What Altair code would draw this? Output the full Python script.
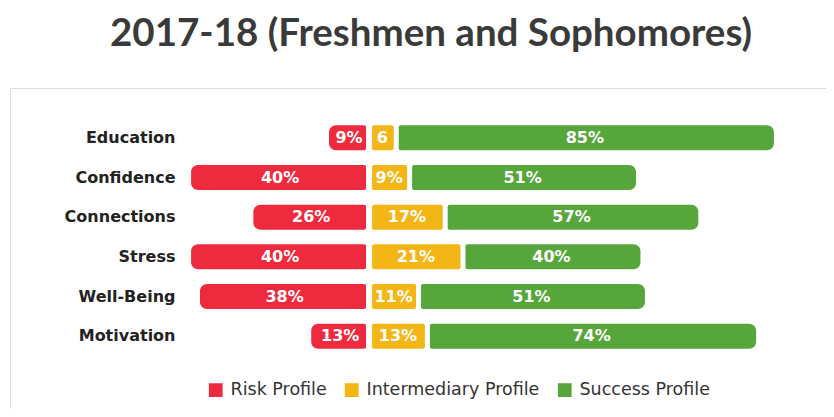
import altair as alt
import pandas as pd

categories = ["Education", "Confidence", "Connections", "Stress", "Well-Being", "Motivation"]
risk = [9, 40, 26, 40, 38, 13]
inter = [6, 9, 17, 21, 11, 13]
success = [85, 51, 57, 40, 51, 74]
inter_labels = ["6", "9%", "17%", "21%", "11%", "13%"]

profiles = ["Risk Profile", "Intermediary Profile", "Success Profile"]
colors = ["#ee2a3e", "#f4b616", "#56a63b"]

rows = []
for i, c in enumerate(categories):
    rows.append(dict(category=c, profile=profiles[0], value=risk[i],
                     start=-risk[i], end=0, label=f"{risk[i]}%"))
    rows.append(dict(category=c, profile=profiles[1], value=inter[i],
                     start=0, end=inter[i], label=inter_labels[i]))
    rows.append(dict(category=c, profile=profiles[2], value=success[i],
                     start=inter[i], end=inter[i] + success[i], label=f"{success[i]}%"))
df = pd.DataFrame(rows)
df["mid"] = (df["start"] + df["end"]) / 2

x_scale = alt.Scale(domain=[-80.7, 102.7], nice=False, zero=False)
y_scale = alt.Scale(domain=categories, range=[30, 268], paddingInner=0, paddingOuter=0)

base = alt.Chart(df)

color = alt.Color(
    "profile:N",
    scale=alt.Scale(domain=profiles, range=colors),
    legend=alt.Legend(
        title=None, orient="none", direction="horizontal", legendX=197, legendY=293,
        symbolType="square", symbolSize=190, symbolStrokeWidth=0,
        labelFont="DejaVu Sans", labelFontSize=17.5, labelColor="#333333",
        labelLimit=400, columnPadding=16, labelOffset=6,
    ),
)

def bars(profile, **mark_kw):
    return base.transform_filter(alt.datum.profile == profile).mark_bar(size=25, **mark_kw).encode(
        x=alt.X("start:Q", scale=x_scale, axis=None),
        x2="end:Q",
        y=alt.Y("category:N", scale=y_scale, sort=categories,
                axis=alt.Axis(title=None, domain=False, ticks=False, grid=False,
                              labelFont="DejaVu Sans", labelFontWeight="bold",
                              labelFontSize=16, labelColor="#222222",
                              offset=-170, labelPadding=5)),
        color=color,
    )

red = bars(profiles[0], x2Offset=-3, cornerRadiusTopLeft=7, cornerRadiusBottomLeft=7,
           cornerRadiusTopRight=2, cornerRadiusBottomRight=2)
yellow = bars(profiles[1], xOffset=3, x2Offset=-2, cornerRadius=2)
green = bars(profiles[2], xOffset=3, cornerRadiusTopRight=7, cornerRadiusBottomRight=7,
             cornerRadiusTopLeft=2, cornerRadiusBottomLeft=2)

text = base.mark_text(color="white", font="DejaVu Sans", fontWeight="bold",
                      fontSize=16, baseline="middle", align="center").encode(
    x=alt.X("mid:Q", scale=x_scale, axis=None),
    y=alt.Y("category:N", scale=y_scale, sort=categories),
    text="label:N",
)

chart = alt.layer(red, yellow, green, text).properties(
    width=816,
    height=321,
    autosize=alt.AutoSizeParams(type="none"),
    padding={"left": 2, "top": 80, "right": 0, "bottom": 0},
    title=alt.TitleParams(
        "2017-18 (Freshmen and Sophomores)", font="Lato", fontSize=38.5,
        fontWeight="bold", color="#3a3a3a", anchor="start", frame="group",
        dx=100, offset=34,
    ),
).configure_view(
    stroke="#dedede", strokeWidth=1, cornerRadius=6
).configure(background="white")

chart.save("out.html", embed_options={"renderer": "svg", "actions": False})
